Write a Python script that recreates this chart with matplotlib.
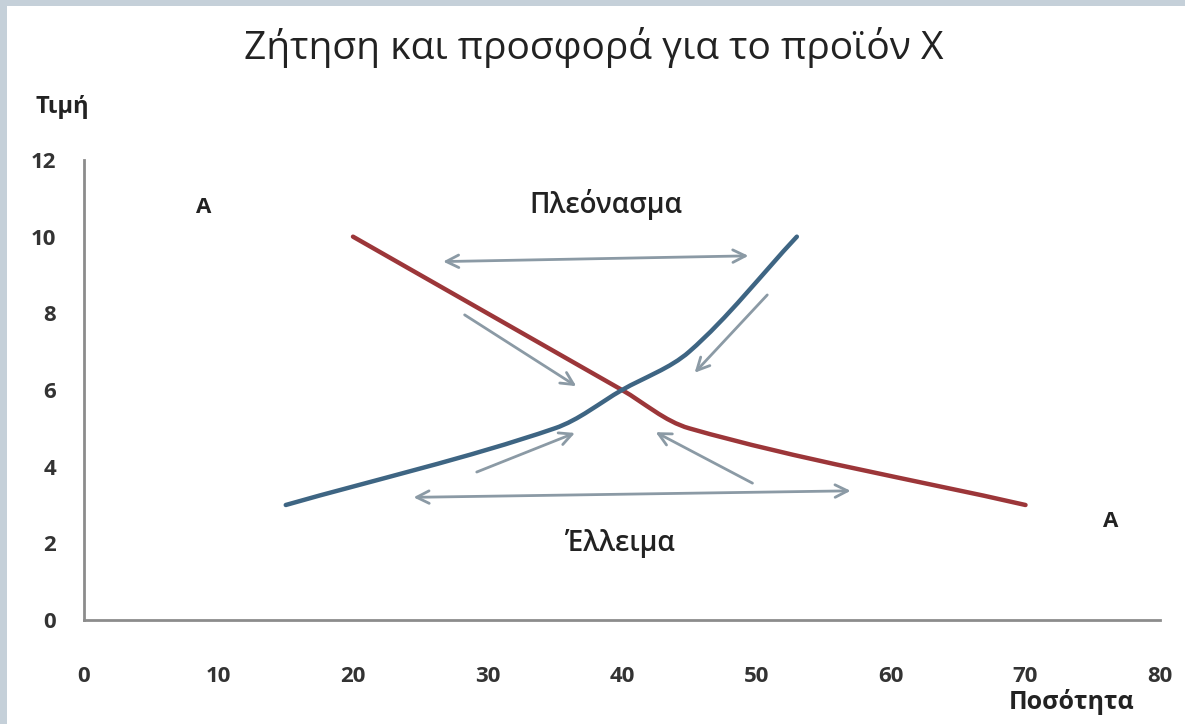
import matplotlib.pyplot as plt
from matplotlib.path import Path
from matplotlib.patches import PathPatch, Rectangle

plt.rcParams['font.family'] = ['Open Sans', 'DejaVu Sans']

# demand curve (red) and supply curve (blue), Excel smooth-line points
demand_x = [20, 40, 45, 70]
demand_y = [10, 6, 5, 3]
supply_x = [15, 35, 40, 45, 53]
supply_y = [3, 5, 6, 7, 10]

# double arrows: (x1, y1, x2, y2)
double_arrows = [(26.7, 9.35, 49.4, 9.5),
                 (24.5, 3.2, 57.0, 3.37)]
# single arrows: (tail x, tail y, head x, head y)
single_arrows = [(28.3, 7.96, 36.6, 6.1),
                 (50.8, 8.48, 45.4, 6.45),
                 (29.2, 3.86, 36.5, 4.88),
                 (49.7, 3.57, 42.5, 4.9)]

x_ticks = [0, 10, 20, 30, 40, 50, 60, 70, 80]
y_ticks = [0, 2, 4, 6, 8, 10, 12]

# y units are drawn about 2.85 times larger than x units
ASPECT = 2.85


def smooth_path(xs, ys):
    # smooth cubic Bezier through the points, tangents scaled by segment length
    pts = [(x, y * ASPECT) for x, y in zip(xs, ys)]
    n = len(pts)

    def dist(a, b):
        return ((a[0] - b[0]) ** 2 + (a[1] - b[1]) ** 2) ** 0.5

    tang = []
    for i in range(n):
        a = pts[max(i - 1, 0)]
        b = pts[min(i + 1, n - 1)]
        d = dist(a, pts[i]) + dist(pts[i], b)
        tang.append(((b[0] - a[0]) / d, (b[1] - a[1]) / d))
    verts = [pts[0]]
    codes = [Path.MOVETO]
    for i in range(n - 1):
        L = dist(pts[i], pts[i + 1]) / 3
        c1 = (pts[i][0] + tang[i][0] * L, pts[i][1] + tang[i][1] * L)
        c2 = (pts[i + 1][0] - tang[i + 1][0] * L, pts[i + 1][1] - tang[i + 1][1] * L)
        verts += [c1, c2, pts[i + 1]]
        codes += [Path.CURVE4] * 3
    verts = [(x, y / ASPECT) for x, y in verts]
    return Path(verts, codes)


fig = plt.figure(figsize=(11.85, 7.24), dpi=100, facecolor='#c5d0d9')
fig.patches.append(Rectangle((7 / 1185, 0), 1, 1 - 6 / 724,
                             transform=fig.transFigure, facecolor='white',
                             edgecolor='none', zorder=-10))

ax = fig.add_axes([84 / 1185, 1 - 620 / 724, (1160 - 84) / 1185, (620 - 160) / 724])
ax.set_facecolor('none')
ax.set_xlim(0, 80)
ax.set_ylim(0, 12)

ax.add_patch(PathPatch(smooth_path(demand_x, demand_y), facecolor='none',
                       edgecolor='#9c3639', lw=3.2, capstyle='round', zorder=3))
ax.add_patch(PathPatch(smooth_path(supply_x, supply_y), facecolor='none',
                       edgecolor='#3e6583', lw=3.2, capstyle='round', zorder=3))

arrow_color = '#8b9aa5'
for x1, y1, x2, y2 in double_arrows:
    ax.annotate('', xy=(x2, y2), xytext=(x1, y1),
                arrowprops=dict(arrowstyle='<->,head_length=0.9,head_width=0.45',
                                color=arrow_color, lw=2, shrinkA=0, shrinkB=0))
for x1, y1, x2, y2 in single_arrows:
    ax.annotate('', xy=(x2, y2), xytext=(x1, y1),
                arrowprops=dict(arrowstyle='->,head_length=0.9,head_width=0.45',
                                color=arrow_color, lw=2, shrinkA=0, shrinkB=0))

ax.text(8.9, 10.75, 'A', fontsize=16, fontweight='bold', ha='center', va='center', color='#222222')
ax.text(76.3, 2.56, 'A', fontsize=16, fontweight='bold', ha='center', va='center', color='#222222')
ax.text(38.8, 10.85, 'Πλεόνασμα', fontsize=20, fontweight='semibold', ha='center', va='center', color='#222222')
ax.text(39.9, 1.99, 'Έλλειμα', fontsize=20, fontweight='semibold', ha='center', va='center', color='#222222')

for side in ['top', 'right']:
    ax.spines[side].set_visible(False)
for side in ['left', 'bottom']:
    ax.spines[side].set_color('#8c8c8c')
    ax.spines[side].set_linewidth(2)

ax.set_xticks(x_ticks)
ax.set_yticks(y_ticks)
ax.tick_params(axis='both', length=0, labelsize=16, labelcolor='#333333')
ax.tick_params(axis='x', pad=33)
ax.tick_params(axis='y', pad=20)
for lab in ax.get_xticklabels() + ax.get_yticklabels():
    lab.set_fontweight('bold')

fig.text(594 / 1185, 1 - 47 / 724, 'Ζήτηση και προσφορά για το προϊόν Χ',
         fontsize=28, ha='center', va='center', color='#222222')
fig.text(62 / 1185, 1 - 107 / 724, 'Τιμή', fontsize=17, fontweight='bold',
         ha='center', va='center', color='#222222')
fig.text(1072 / 1185, 1 - 702 / 724, 'Ποσότητα', fontsize=18, fontweight='bold',
         ha='center', va='center', color='#222222')

fig.savefig('out.png', dpi=100, facecolor=fig.get_facecolor())
